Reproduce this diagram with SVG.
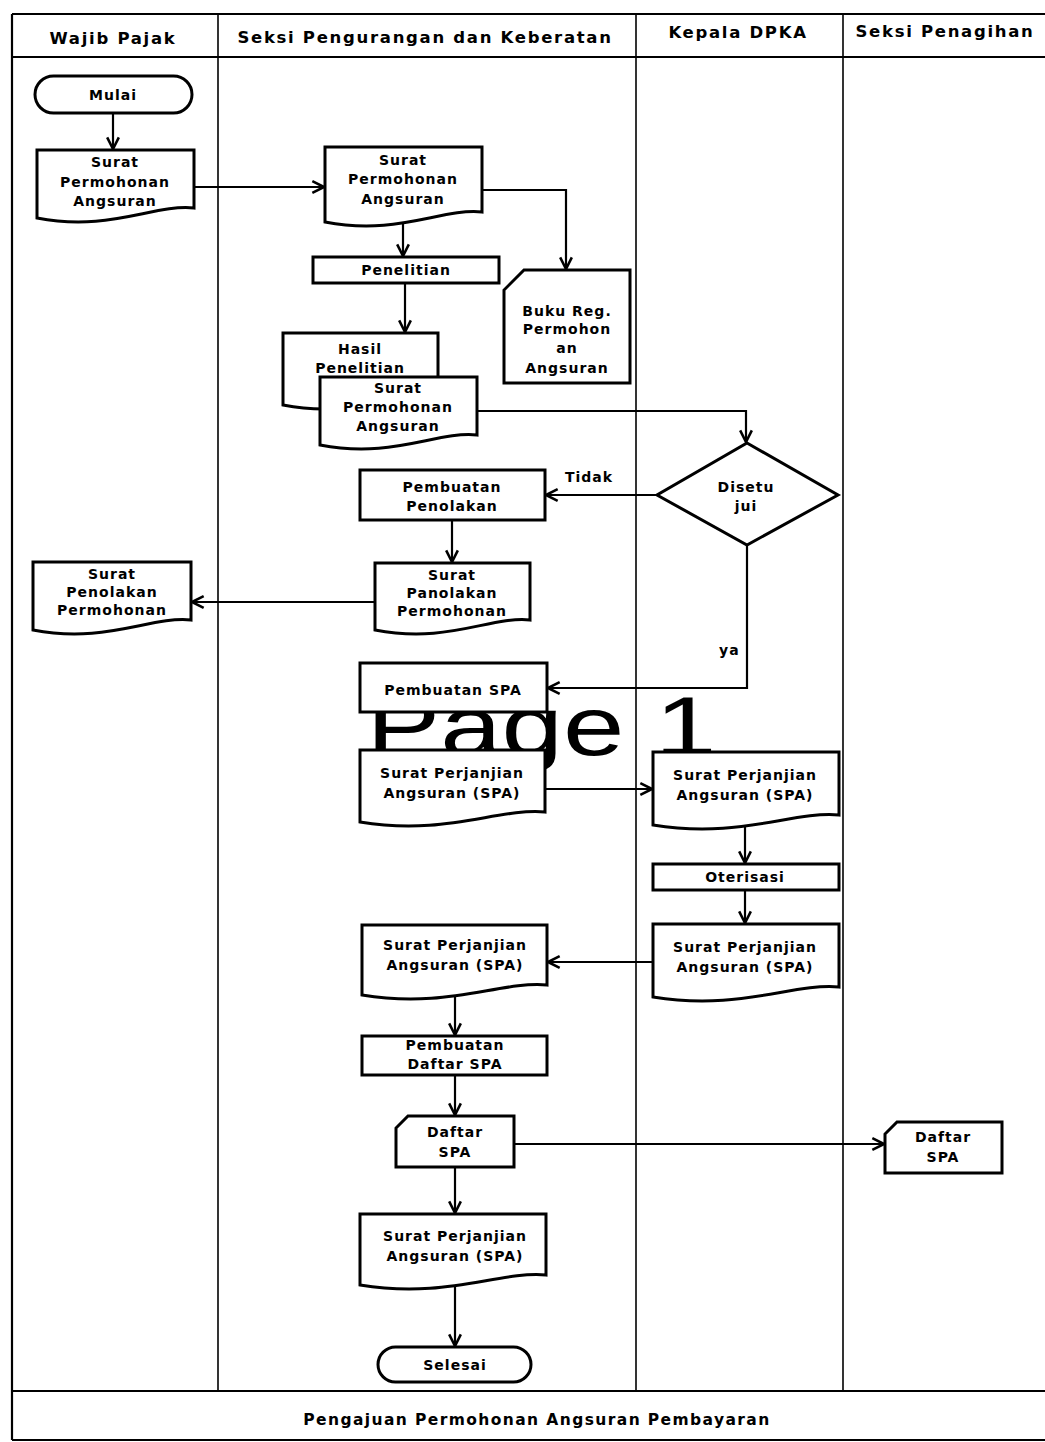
<svg xmlns="http://www.w3.org/2000/svg" width="1045" height="1442" viewBox="0 0 1045 1442">
  <style>
    .bg { fill: #ffffff; }
    .lane { stroke: #000; stroke-width: 1.6; fill: none; }
    .frame { stroke: #000; stroke-width: 2.2; fill: none; }
    .shape { fill: #ffffff; stroke: #000; stroke-width: 3; stroke-linejoin: miter; }
    .conn { fill: none; stroke: #000; stroke-width: 2.2; marker-end: url(#arrow); }
    .hdr { font-family: "DejaVu Sans", "Liberation Sans", sans-serif; font-weight: bold; font-size: 16.5px; letter-spacing: 1.7px; text-anchor: middle; fill: #000; }
    .lbl { font-family: "DejaVu Sans", "Liberation Sans", sans-serif; font-weight: bold; font-size: 14px; letter-spacing: 1px; text-anchor: middle; fill: #000; }
    .note { font-family: "DejaVu Sans", "Liberation Sans", sans-serif; font-weight: bold; font-size: 14px; letter-spacing: 1px; fill: #000; }
    .wm { font-family: "Liberation Sans", Arial, sans-serif; font-size: 84px; fill: #000; }
  </style>
  <defs>
    <marker id="arrow" viewBox="0 0 12 12" refX="11" refY="6" markerWidth="14" markerHeight="14" markerUnits="userSpaceOnUse" orient="auto">
      <path d="M1,1 L11,6 L1,11" fill="none" stroke="#000" stroke-width="2.2"/>
    </marker>
  </defs>

  <rect class="bg" x="0" y="0" width="1045" height="1442"/>

  <!-- swimlane frame -->
  <g id="lanes">
    <line class="frame" x1="12" y1="14" x2="1045" y2="14"/>
    <line class="frame" x1="12" y1="57" x2="1045" y2="57"/>
    <line class="frame" x1="12" y1="1391" x2="1045" y2="1391"/>
    <line class="frame" x1="12" y1="1440" x2="1045" y2="1440"/>
    <line class="frame" x1="12" y1="14" x2="12" y2="1440"/>
    <line class="lane" x1="218" y1="14" x2="218" y2="1391"/>
    <line class="lane" x1="636" y1="14" x2="636" y2="1391"/>
    <line class="lane" x1="843" y1="14" x2="843" y2="1391"/>
    <text class="hdr" x="113" y="44">Wajib Pajak</text>
    <text class="hdr" x="425" y="43">Seksi Pengurangan dan Keberatan</text>
    <text class="hdr" x="738" y="38">Kepala DPKA</text>
    <text class="hdr" x="945" y="37">Seksi Penagihan</text>
    <text class="hdr" x="537" y="1425" style="font-size:15.5px;letter-spacing:1.4px">Pengajuan Permohonan Angsuran Pembayaran</text>
  </g>

  <!-- page watermark, sits behind the boxes -->
  <text class="wm" transform="translate(366.5,755) scale(1.315,1)" x="0" y="0">Page 1</text>

  <!-- connectors -->
  <g id="connectors">
    <path class="conn" d="M113,113 V149"/>
    <path class="conn" d="M194,187 H324"/>
    <path class="conn" d="M482,190 H566 V269"/>
    <path class="conn" d="M403,221 V256"/>
    <path class="conn" d="M405,283 V332"/>
    <path class="conn" d="M477,411 H746 V442"/>
    <path class="conn" d="M657,495 H546"/>
    <path class="conn" d="M452,520 V562"/>
    <path class="conn" d="M375,602 H192"/>
    <path class="conn" d="M747,545 V688 H548"/>
    <path class="conn" d="M545,789 H652"/>
    <path class="conn" d="M745,822 V863"/>
    <path class="conn" d="M745,890 V923"/>
    <path class="conn" d="M653,962 H548"/>
    <path class="conn" d="M455,993 V1035"/>
    <path class="conn" d="M455,1075 V1115"/>
    <path class="conn" d="M514,1144 H884"/>
    <path class="conn" d="M455,1167 V1213"/>
    <path class="conn" d="M455,1283 V1346"/>
    <text class="note" x="565" y="482">Tidak</text>
    <text class="note" x="719" y="655">ya</text>
  </g>

  <!-- Wajib Pajak lane -->
  <g id="mulai">
    <rect class="shape" x="35" y="76" width="157" height="37" rx="18.5"/>
    <text class="lbl" x="113" y="100">Mulai</text>
  </g>
  <g id="wp-surat-permohonan">
    <path class="shape" d="M37,150 H194 V208 C153,204 110,232 37,218 Z"/>
    <text class="lbl" x="115" y="167">Surat</text>
    <text class="lbl" x="115" y="187">Permohonan</text>
    <text class="lbl" x="115" y="206">Angsuran</text>
  </g>
  <g id="wp-surat-penolakan">
    <path class="shape" d="M33,562 H191 V620 C150,616 106,644 33,630 Z"/>
    <text class="lbl" x="112" y="579">Surat</text>
    <text class="lbl" x="112" y="597">Penolakan</text>
    <text class="lbl" x="112" y="615">Permohonan</text>
  </g>

  <!-- Seksi Pengurangan dan Keberatan lane -->
  <g id="sk-surat-permohonan">
    <path class="shape" d="M325,147 H482 V212 C441,208 398,236 325,222 Z"/>
    <text class="lbl" x="403" y="165">Surat</text>
    <text class="lbl" x="403" y="184">Permohonan</text>
    <text class="lbl" x="403" y="204">Angsuran</text>
  </g>
  <g id="penelitian">
    <rect class="shape" x="313" y="257" width="186" height="26"/>
    <text class="lbl" x="406" y="275">Penelitian</text>
  </g>
  <g id="buku-register">
    <path class="shape" d="M524,270 H630 V383 H504 V290 Z"/>
    <text class="lbl" x="567" y="316">Buku Reg.</text>
    <text class="lbl" x="567" y="334">Permohon</text>
    <text class="lbl" x="567" y="353">an</text>
    <text class="lbl" x="567" y="373">Angsuran</text>
  </g>
  <g id="hasil-penelitian">
    <path class="shape" d="M283,333 H438 V395 C398,391 356,419 283,405 Z"/>
    <text class="lbl" x="360" y="354">Hasil</text>
    <text class="lbl" x="360" y="373">Penelitian</text>
  </g>
  <g id="sk-surat-permohonan-2">
    <path class="shape" d="M320,377 H477 V435 C436,431 393,459 320,445 Z"/>
    <text class="lbl" x="398" y="393">Surat</text>
    <text class="lbl" x="398" y="412">Permohonan</text>
    <text class="lbl" x="398" y="431">Angsuran</text>
  </g>
  <g id="pembuatan-penolakan">
    <rect class="shape" x="360" y="470" width="185" height="50"/>
    <text class="lbl" x="452" y="492">Pembuatan</text>
    <text class="lbl" x="452" y="511">Penolakan</text>
  </g>
  <g id="sk-surat-penolakan">
    <path class="shape" d="M375,563 H530 V620 C490,616 448,644 375,630 Z"/>
    <text class="lbl" x="452" y="580">Surat</text>
    <text class="lbl" x="452" y="598">Panolakan</text>
    <text class="lbl" x="452" y="616">Permohonan</text>
  </g>
  <g id="pembuatan-spa">
    <rect class="shape" x="360" y="663" width="187" height="49"/>
    <text class="lbl" x="453" y="695">Pembuatan SPA</text>
  </g>
  <g id="sk-spa-1">
    <path class="shape" d="M360,750 H545 V812 C497,808 446,836 360,822 Z"/>
    <text class="lbl" x="452" y="778">Surat Perjanjian</text>
    <text class="lbl" x="452" y="798">Angsuran (SPA)</text>
  </g>
  <g id="sk-spa-2">
    <path class="shape" d="M362,925 H547 V985 C499,981 448,1009 362,995 Z"/>
    <text class="lbl" x="455" y="950">Surat Perjanjian</text>
    <text class="lbl" x="455" y="970">Angsuran (SPA)</text>
  </g>
  <g id="pembuatan-daftar-spa">
    <rect class="shape" x="362" y="1036" width="185" height="39"/>
    <text class="lbl" x="455" y="1050">Pembuatan</text>
    <text class="lbl" x="455" y="1069">Daftar SPA</text>
  </g>
  <g id="sk-daftar-spa">
    <path class="shape" d="M408,1116 H514 V1167 H396 V1128 Z"/>
    <text class="lbl" x="455" y="1137">Daftar</text>
    <text class="lbl" x="455" y="1157">SPA</text>
  </g>
  <g id="sk-spa-3">
    <path class="shape" d="M360,1214 H546 V1275 C498,1271 447,1299 360,1285 Z"/>
    <text class="lbl" x="455" y="1241">Surat Perjanjian</text>
    <text class="lbl" x="455" y="1261">Angsuran (SPA)</text>
  </g>
  <g id="selesai">
    <rect class="shape" x="378" y="1347" width="153" height="35" rx="17.5"/>
    <text class="lbl" x="455" y="1370">Selesai</text>
  </g>

  <!-- Kepala DPKA lane -->
  <g id="disetujui">
    <path class="shape" d="M747,443 L838,495 L747,545 L657,495 Z"/>
    <text class="lbl" x="746" y="492">Disetu</text>
    <text class="lbl" x="746" y="511">jui</text>
  </g>
  <g id="kp-spa-1">
    <path class="shape" d="M653,752 H839 V815 C791,811 740,839 653,825 Z"/>
    <text class="lbl" x="745" y="780">Surat Perjanjian</text>
    <text class="lbl" x="745" y="800">Angsuran (SPA)</text>
  </g>
  <g id="oterisasi">
    <rect class="shape" x="653" y="864" width="186" height="26"/>
    <text class="lbl" x="745" y="882">Oterisasi</text>
  </g>
  <g id="kp-spa-2">
    <path class="shape" d="M653,924 H839 V987 C791,983 740,1011 653,997 Z"/>
    <text class="lbl" x="745" y="952">Surat Perjanjian</text>
    <text class="lbl" x="745" y="972">Angsuran (SPA)</text>
  </g>

  <!-- Seksi Penagihan lane -->
  <g id="pn-daftar-spa">
    <path class="shape" d="M897,1122 H1002 V1173 H885 V1134 Z"/>
    <text class="lbl" x="943" y="1142">Daftar</text>
    <text class="lbl" x="943" y="1162">SPA</text>
  </g>
</svg>
